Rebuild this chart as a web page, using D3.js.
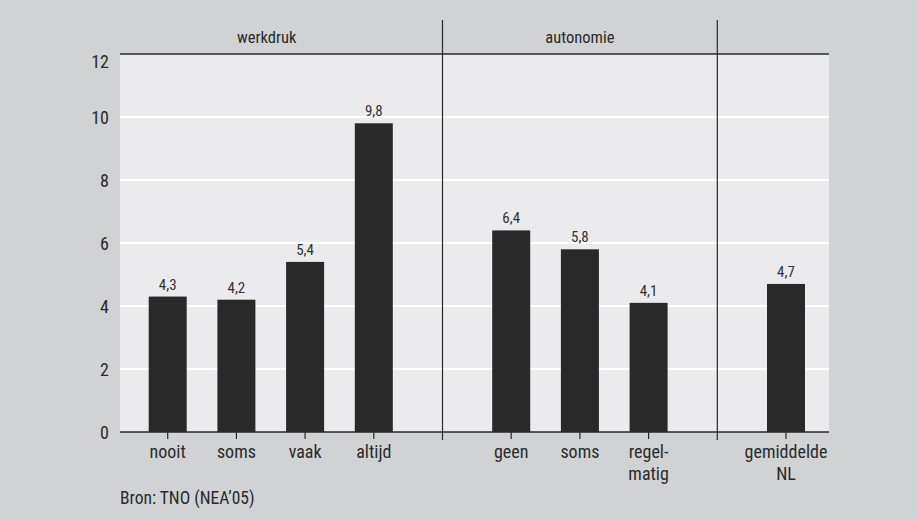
<!DOCTYPE html>
<html><head><meta charset="utf-8">
<script src="https://cdn.jsdelivr.net/npm/d3@7"></script>
<style>
html,body{margin:0;padding:0;background:#d1d2d4;}
svg{display:block;font-family:"Liberation Sans Narrow","Roboto Condensed","Liberation Sans",sans-serif;}
</style></head>
<body><svg id="c" width="918" height="519"></svg>
<script>
const categories = ["nooit","soms","vaak","altijd","geen","soms","regel-|matig","gemiddelde|NL"];
const slotIndex = [0,1,2,3,5,6,7,9];
const values = [4.3,4.2,5.4,9.8,6.4,5.8,4.1,4.7];
const valueLabels = ["4,3","4,2","5,4","9,8","6,4","5,8","4,1","4,7"];
const groups = ["werkdruk","autonomie",""];
const groupSlots = [[0,3],[5,7],[9,9]];
const separatorSlots = [4,8];
const yTicks = [0,2,4,6,8,10,12];
const source = "Bron: TNO (NEA\u201905)";

(function(){
const svg = d3.select("#c");
const pLeft = 120, pRight = 829, pTop = 54, pBottom = 432;
const x = d3.scaleLinear().domain([0,9]).range([167.7,786]);
const y = d3.scaleLinear().domain([0,12]).range([pBottom, pTop]);
const barW = 38;
const ink = "#2a292a";
const txt = "#2a2a2a";

svg.append("rect").attr("x",pLeft).attr("y",y(12)).attr("width",pRight-pLeft).attr("height",pBottom-y(12)).attr("fill","#ebebed");

svg.append("g").selectAll("line").data(yTicks.filter(d=>d>0&&d<12)).join("line")
  .attr("x1",pLeft).attr("x2",pRight).attr("y1",d=>y(d)).attr("y2",d=>y(d))
  .attr("stroke","#ffffff").attr("stroke-width",2);

svg.append("line").attr("x1",pLeft).attr("x2",pRight).attr("y1",y(12)).attr("y2",y(12)).attr("stroke",ink).attr("stroke-width",1.5);

svg.append("g").selectAll("text").data(yTicks).join("text")
  .attr("x",109).attr("y",d=>y(d)+6.5+(d===12?7:0)).attr("text-anchor","end")
  .attr("font-size",18).attr("fill",txt).text(d=>d);

svg.append("g").selectAll("rect").data(values).join("rect")
  .attr("x",(d,i)=>x(slotIndex[i])-barW/2).attr("width",barW)
  .attr("y",d=>y(d)).attr("height",d=>pBottom-y(d)).attr("fill",ink);

svg.append("g").selectAll("text").data(values).join("text")
  .attr("x",(d,i)=>x(slotIndex[i])).attr("y",d=>y(d)-7).attr("text-anchor","middle")
  .attr("font-size",15).attr("fill","#333").text((d,i)=>valueLabels[i]);

svg.append("line").attr("x1",pLeft).attr("x2",pRight).attr("y1",pBottom).attr("y2",pBottom).attr("stroke",ink).attr("stroke-width",1.5);

svg.append("g").selectAll("line").data(slotIndex).join("line")
  .attr("x1",d=>x(d)).attr("x2",d=>x(d)).attr("y1",pBottom).attr("y2",pBottom+7)
  .attr("stroke",ink).attr("stroke-width",1.2);

svg.append("g").selectAll("line").data(separatorSlots).join("line")
  .attr("x1",d=>x(d)).attr("x2",d=>x(d)).attr("y1",20).attr("y2",pBottom+8)
  .attr("stroke",ink).attr("stroke-width",1.2);

svg.append("g").selectAll("text").data(groups).join("text")
  .attr("x",(d,i)=>(x(groupSlots[i][0])+x(groupSlots[i][1]))/2 - (i===0?4:0))
  .attr("y",43).attr("text-anchor","middle").attr("font-size",16.5).attr("fill",txt).text(d=>d);

const cl = svg.append("g").selectAll("text").data(categories).join("text")
  .attr("text-anchor","middle").attr("font-size",18).attr("fill",txt)
  .attr("transform",(d,i)=>`translate(${x(slotIndex[i])},458)`);
cl.each(function(d){
  const t = d3.select(this);
  d.split("|").forEach((s,k)=>t.append("tspan").attr("x",0).attr("y",k*22).text(s));
});

svg.append("text").attr("x",120).attr("y",504).attr("font-size",17.5).attr("fill",txt).text(source);
})();
</script></body></html>
